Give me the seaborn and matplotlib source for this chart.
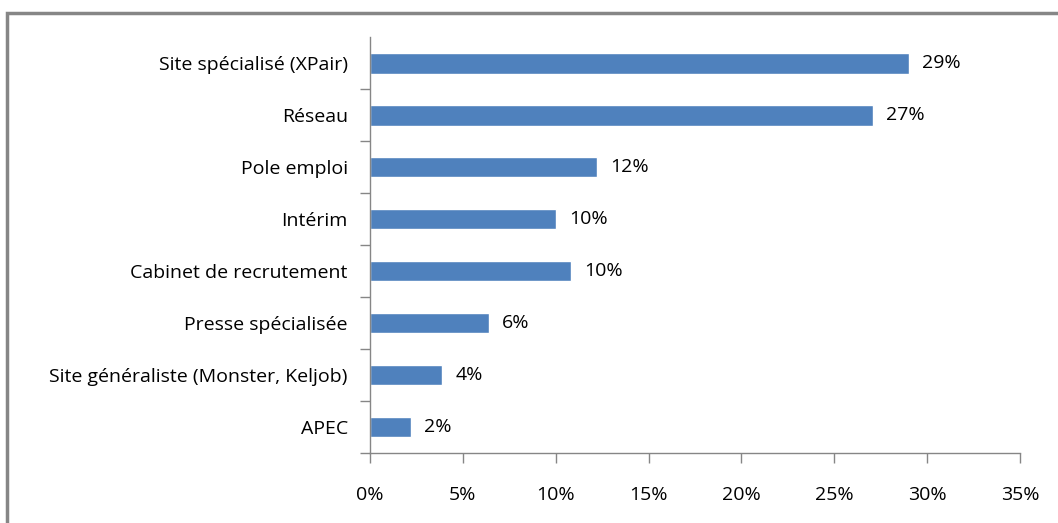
import numpy as np
import pandas as pd
import matplotlib.pyplot as plt
import seaborn as sns
from matplotlib.patches import Rectangle
from matplotlib.ticker import FixedLocator, PercentFormatter

# Categories, top to bottom
categories = ['Site spécialisé (XPair)', 'Réseau', 'Pole emploi', 'Intérim',
              'Cabinet de recrutement', 'Presse spécialisée',
              'Site généraliste (Monster, Keljob)', 'APEC']
# Bar lengths (%)
values = [29.0, 27.1, 12.2, 10.0, 10.8, 6.4, 3.9, 2.2]
# Data labels as printed
value_labels = ['29%', '27%', '12%', '10%', '10%', '6%', '4%', '2%']
x_ticks = [0, 5, 10, 15, 20, 25, 30, 35]

sns.set_style('white')
plt.rcParams['font.family'] = ['Open Sans', 'DejaVu Sans']
FS = 14

df = pd.DataFrame({'cat': categories, 'val': values})

fig = plt.figure(figsize=(10.58, 5.23), dpi=100)
ax = fig.add_axes([0.3497, 0.1338, 0.9641 - 0.3497, 0.929 - 0.1338])

sns.barplot(data=df, y='cat', x='val', color='#4F81BD', width=0.4,
            saturation=1, ax=ax, orient='h')

ax.set_xlim(0, 35)
ax.set_ylim(7.5, -0.5)
ax.set_xlabel('')
ax.set_ylabel('')

ax.xaxis.set_major_locator(FixedLocator(x_ticks))
ax.xaxis.set_major_formatter(PercentFormatter(decimals=0))
ax.tick_params(axis='x', length=7, width=1, color='#868686', direction='out',
               pad=17, labelsize=FS, labelcolor='black', bottom=True)
ax.tick_params(axis='y', which='major', length=0, pad=16, labelsize=FS,
               labelcolor='black', left=True)
ax.yaxis.set_minor_locator(FixedLocator(np.arange(0.5, len(categories), 1.0)))
ax.tick_params(axis='y', which='minor', length=7, width=1, color='#868686',
               direction='out', left=True)

for s in ['top', 'right']:
    ax.spines[s].set_visible(False)
for s in ['left', 'bottom']:
    ax.spines[s].set_color('#868686')
    ax.spines[s].set_linewidth(1)

for i, (v, lab) in enumerate(zip(values, value_labels)):
    ax.annotate(lab, xy=(v, i), xytext=(9.5, 0), textcoords='offset points',
                va='center', ha='left', fontsize=FS, color='black')

# outer chart frame
fig.patches.append(Rectangle((7 / 1058, -0.05), 1.2, 1 - 13 / 523 + 0.05,
                             transform=fig.transFigure, fill=False,
                             edgecolor='#868686', linewidth=2.5))

fig.savefig('out.png', dpi=100)
